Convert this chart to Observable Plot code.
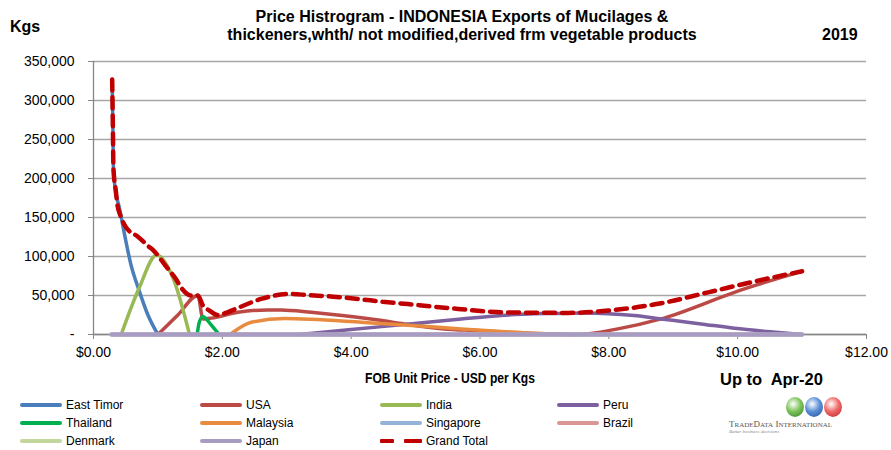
<!DOCTYPE html>
<html><head><meta charset="utf-8">
<script src="https://cdn.jsdelivr.net/npm/d3@7"></script>
<script src="https://cdn.jsdelivr.net/npm/@observablehq/plot@0.6"></script>
<style>
body{margin:0;background:#fff;font-family:"Liberation Sans",Arial,sans-serif;}
#wrap{position:relative;width:891px;height:450px;overflow:hidden;background:#fff}
#wrap svg{position:absolute;left:0;top:0}
.t{position:absolute;font-weight:bold;color:#000;white-space:nowrap;line-height:18px}
.lg{position:absolute;font-size:12px;color:#000;white-space:nowrap;line-height:14px}
.sw{position:absolute;height:4px;border-radius:2px}
.globe{position:absolute;width:18px;height:20px;border-radius:50%}
</style></head><body><div id="wrap"></div>
<script>
// ---- data ----
const seriesNames = ["East Timor","USA","India","Peru","Thailand","Malaysia","Singapore","Brazil","Denmark","Japan","Grand Total"];
const seriesColors = ["#4a7ebb","#bb4a47","#98b954","#7d60a0","#00b050","#e98b3f","#95b3d7","#d99694","#c3d69b","#a99cc2","#c00000"];

const eastTimorPrice = [0.29,0.30,0.31,0.345,0.40,0.48,0.58,0.71,0.84,1.0];
const eastTimorKgs   = [327000,270000,212000,183000,163000,129000,90000,56000,26000,0];

const usaPrice = [1.0,1.31,1.62,1.70,1.83,2.24,2.7,2.91,3.38,3.64,4.42,4.82,5.44,5.96,6.6,7.2,7.5,8.14,8.81,9.95,10.26,11.0];
const usaKgs   = [0,25000,50000,20000,21000,28500,31500,31500,28500,26400,18700,13600,7200,5000,2000,500,0,7200,20000,54000,62600,81000];

const indiaPrice = [0.43,0.71,0.98,1.25,1.49];
const indiaKgs   = [0,60000,102000,69000,0];

const peruPrice = [3.2,4.0,4.82,5.71,6.33,7.0,7.62,8.39,8.81,9.43,9.95,10.46,11.0];
const peruKgs   = [0,6300,12900,20000,24500,26800,27700,24300,20000,13600,8000,3800,0];

const thailandPrice = [1.61,1.64,1.70,1.76,1.82,1.95];
const thailandKgs   = [0,15000,23000,19000,13000,0];

const malaysiaPrice = [2.12,2.45,2.97,3.38,4.16,4.82,5.71,6.33,6.9,7.37];
const malaysiaKgs   = [0,15700,20500,19600,15700,12300,7200,4000,1200,0];

const zeroPrice = [0.28,11.0];
const singaporeKgs = [0,0];
const brazilKgs    = [0,0];
const denmarkKgs   = [0,0];
const japanKgs     = [0,0];

const totalPrice = [0.29,0.30,0.31,0.345,0.37,0.42,0.50,0.55,0.68,0.84,0.94,1.12,1.28,1.38,1.51,1.62,1.70,1.80,1.93,2.08,2.24,2.6,3.06,3.33,3.72,4.1,4.49,4.88,5.27,5.66,6.05,6.33,7.37,7.99,8.81,9.54,10.26,11.0];
const totalKgs   = [327000,270000,212000,185000,167000,152000,138000,133000,126000,114000,107000,88000,71000,58000,50000,50000,37000,30700,25000,28500,34000,45600,52000,50500,48500,45600,42000,39000,35800,32800,29800,28500,27700,30700,40000,54000,68000,81000];

const xTicks = [0,2,4,6,8,10,12];
const yTicks = [0,50000,100000,150000,200000,250000,300000,350000];

// ---- build ----
const pairs = (px, ky) => px.map((p,i)=>({price:p, kgs:ky[i]}));
const series = [
  pairs(eastTimorPrice,eastTimorKgs),
  pairs(usaPrice,usaKgs),
  pairs(indiaPrice,indiaKgs),
  pairs(peruPrice,peruKgs),
  pairs(thailandPrice,thailandKgs),
  pairs(malaysiaPrice,malaysiaKgs),
  pairs(zeroPrice,singaporeKgs),
  pairs(zeroPrice,brazilKgs),
  pairs(zeroPrice,denmarkKgs),
  pairs(zeroPrice,japanKgs),
  pairs(totalPrice,totalKgs)
];

const lineMarks = series.map((d,i)=> i === 10
  ? Plot.line(d,{x:"price",y:"kgs",stroke:seriesColors[i],strokeWidth:4.5,strokeDasharray:"11,7",curve:"monotone-x"})
  : Plot.line(d,{x:"price",y:"kgs",stroke:seriesColors[i],strokeWidth: i === 9 ? 4.5 : 3.5,strokeLinecap:"round",curve:"monotone-x"}));

const chart = Plot.plot({
  width:891, height:450,
  marginLeft:93, marginRight:25, marginTop:61, marginBottom:116,
  x:{domain:[0,12]},
  y:{domain:[0,350000]},
  style:{fontFamily:"'Liberation Sans', Arial, sans-serif", fontSize:"14px", color:"#000", background:"transparent"},
  marks:[
    Plot.gridY(yTicks,{stroke:"#a6a6a6",strokeOpacity:1,strokeWidth:1.5}),
    Plot.ruleX([0],{stroke:"#868686",strokeWidth:1.3}),
    Plot.ruleY([0],{stroke:"#868686",strokeWidth:1.3}),
    Plot.axisY(yTicks,{tickSize:5,tickPadding:14,stroke:"#868686",fill:"#000",label:null,
      tickFormat:d=> d===0 ? "-" : d3.format(",")(d)}),
    Plot.axisX(xTicks,{tickSize:5,tickPadding:8,stroke:"#868686",fill:"#000",label:null,
      tickFormat:d=> "$" + d.toFixed(2)}),
    ...lineMarks
  ]
});
const wrap = document.getElementById("wrap");
wrap.appendChild(chart);

function addText(cls, html, css){
  const el = document.createElement("div");
  el.className = cls; el.innerHTML = html;
  Object.assign(el.style, css);
  wrap.appendChild(el);
  return el;
}
addText("t","Kgs",{left:"10px",top:"18px",fontSize:"16px"});
addText("t","Price Histrogram - INDONESIA Exports of Mucilages &<br>thickeners,whth/ not modified,derived frm vegetable products",
  {left:"462px",top:"8px",fontSize:"16px",textAlign:"center",transform:"translateX(-50%)"});
addText("t","2019",{left:"822px",top:"26px",fontSize:"16px"});
addText("t","FOB Unit Price - USD per Kgs",{left:"450px",top:"369px",fontSize:"15.5px",transform:"translateX(-50%) scaleX(0.78)"});
addText("t","Up to&nbsp; Apr-20",{left:"720px",top:"371px",fontSize:"16px",transform:"scaleX(1.03)",transformOrigin:"left"});

// legend
const legCols = [20,200,380,557];
const legRows = [405,423,441];
seriesNames.forEach((name,i)=>{
  const col = i % 4, row = Math.floor(i/4);
  const x = legCols[col], y = legRows[row];
  if (i === 10) {
    const a = document.createElement("div"); a.className="sw";
    Object.assign(a.style,{left:x+"px",top:(y-2)+"px",width:"14px",background:seriesColors[i],borderRadius:"1px"});
    wrap.appendChild(a);
    const b = document.createElement("div"); b.className="sw";
    Object.assign(b.style,{left:(x+24)+"px",top:(y-2)+"px",width:"18px",background:seriesColors[i],borderRadius:"1px"});
    wrap.appendChild(b);
  } else {
    const s = document.createElement("div"); s.className="sw";
    Object.assign(s.style,{left:x+"px",top:(y-2)+"px",width:"42px",background:seriesColors[i]});
    wrap.appendChild(s);
  }
  addText("lg",name,{left:(x+46)+"px",top:(y-7)+"px"});
});

// logo
[["#7cc35a","#2f7d2a",786],["#5b8fd6","#1f4f96",805],["#f06a6a","#b52121",824]].forEach(([c1,c2,x])=>{
  const g = document.createElement("div"); g.className="globe";
  Object.assign(g.style,{left:x+"px",top:"397px",background:`radial-gradient(circle at 40% 35%, #ffffff 0%, ${c1} 45%, ${c2} 100%)`});
  wrap.appendChild(g);
});
addText("lg","T<span style='font-size:7px'>RADE</span>D<span style='font-size:7px'>ATA</span> I<span style='font-size:7px'>NTERNATIONAL</span>",
  {left:"729px",top:"417px",fontSize:"9px",fontFamily:"'Liberation Serif',serif",color:"#555"});
addText("lg","Better business decisions",{left:"729px",top:"425px",fontSize:"5px",fontFamily:"'Liberation Serif',serif",color:"#888",fontStyle:"italic"});
</script></body></html>
